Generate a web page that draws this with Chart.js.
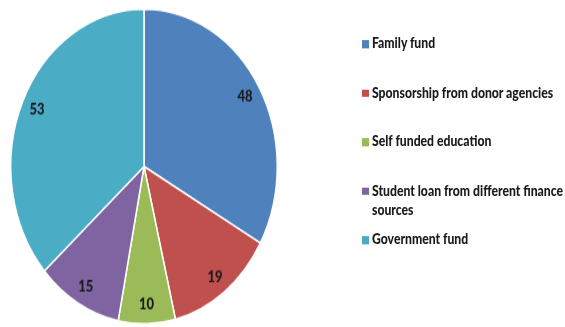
<!DOCTYPE html>
<html lang="en">
<head>
  <meta charset="UTF-8">
  <title>Sources of education funding</title>
  <script src="https://cdn.jsdelivr.net/npm/chart.js"></script>
  <style>
    html, body {
      margin: 0;
      background: #fff;
      width: 565px;
      height: 327px;
    }
    /* the whole figure is drawn a bit squat, then stretched to full height */
    #figure {
      position: relative;
      width: 565px;
      height: 277px;
      transform: scaleY(1.1805);
      transform-origin: 0 0;
    }
    #fundChart {
      position: absolute;
      left: 0;
      top: 0;
    }
    #legend {
      position: absolute;
      left: 362px;
      top: 29px;
      font-family: 'Lato', sans-serif;
      font-weight: 900;
      font-size: 12.2px;
      color: #1a1a1a;
    }
    .item {
      position: relative;
      height: 41.5px;
      line-height: 16px;
      padding-left: 10px;
      white-space: nowrap;
    }
    .swatch {
      position: absolute;
      left: 0;
      top: 5px;
      width: 7px;
      height: 6.5px;
    }
  </style>
</head>
<body>

<div id="figure">
  <canvas id="fundChart" width="290" height="277"></canvas>
  <div id="legend"></div>
</div>

<script>
const categories = [
  'Family fund',
  'Sponsorship from donor agencies',
  'Self funded education',
  ['Student loan from different finance', 'sources'],
  'Government fund'
];
const counts = [48, 19, 10, 15, 53];
const sliceColors = ['#4f81bd', '#c0504d', '#9bbb59', '#8064a2', '#4bacc6'];

// value labels placed inside each slice, near the rim
const sliceLabels = {
  id: 'sliceLabels',
  afterDatasetsDraw(chart) {
    const c = chart.ctx;
    const meta = chart.getDatasetMeta(0);
    c.save();
    c.font = '900 13px Lato, sans-serif';
    c.fillStyle = '#1a1a1a';
    c.textAlign = 'center';
    c.textBaseline = 'middle';
    meta.data.forEach((arc, i) => {
      const mid = (arc.startAngle + arc.endAngle) / 2;
      const r = arc.outerRadius * 0.88;
      c.fillText(String(chart.data.datasets[0].data[i]), arc.x + Math.cos(mid) * r, arc.y + Math.sin(mid) * r);
    });
    c.restore();
  }
};

const fundChart = new Chart(document.getElementById('fundChart'), {
  type: 'pie',
  data: {
    labels: categories,
    datasets: [{
      data: counts,
      backgroundColor: sliceColors,
      borderColor: '#ffffff',
      borderWidth: 1.5
    }]
  },
  options: {
    responsive: false,
    animation: false,
    layout: { padding: { left: 10, right: 12, top: 7, bottom: 2 } },
    plugins: {
      legend: { display: false },
      tooltip: { enabled: false }
    }
  },
  plugins: [sliceLabels]
});

// legend on the right, built from the same categories
const legend = document.getElementById('legend');
categories.forEach((cat, i) => {
  const item = document.createElement('div');
  item.className = 'item';
  const sw = document.createElement('span');
  sw.className = 'swatch';
  sw.style.background = sliceColors[i];
  item.appendChild(sw);
  const lines = Array.isArray(cat) ? cat : [cat];
  lines.forEach((line, j) => {
    if (j > 0) item.appendChild(document.createElement('br'));
    item.appendChild(document.createTextNode(line));
  });
  legend.appendChild(item);
});
</script>

</body>
</html>
